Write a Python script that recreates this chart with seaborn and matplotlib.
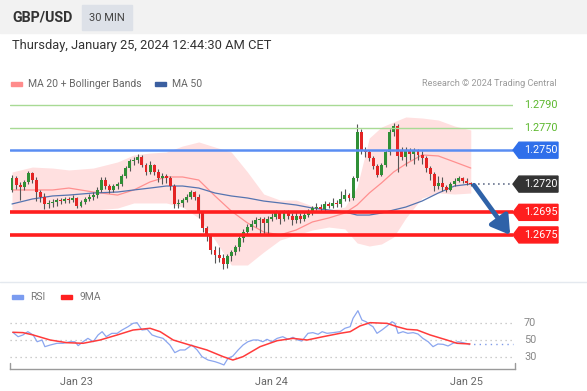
"""
GBP/USD 30 min - recriação do gráfico Trading Central
"""

import matplotlib
matplotlib.use("Agg")
import matplotlib.pyplot as plt
import matplotlib.transforms as mtrans
from matplotlib.patches import Polygon, Rectangle
from matplotlib.lines import Line2D
import pandas as pd
import seaborn as sns

# Velas de 30 min (primeira em 22/01 16:00)
opens = [1.2715, 1.2725, 1.2719, 1.2717, 1.2722, 1.2730, 1.2724, 1.2713, 1.2709, 1.2702,
         1.2703, 1.2704, 1.2706, 1.2705, 1.2707, 1.2706, 1.2708, 1.2701, 1.2704, 1.2707,
         1.2709, 1.2710, 1.2715, 1.2724, 1.2718, 1.2715, 1.2718, 1.2720, 1.2727, 1.2734,
         1.2740, 1.2741, 1.2744, 1.2737, 1.2731, 1.2737, 1.2731, 1.2725, 1.2727, 1.2725,
         1.2718, 1.2702, 1.2703, 1.2706, 1.2709, 1.2713, 1.2709, 1.2694, 1.2681, 1.2674,
         1.2662, 1.2657, 1.2655, 1.2649, 1.2656, 1.2660, 1.2664, 1.2672, 1.2678, 1.2682,
         1.2685, 1.2688, 1.2689, 1.2686, 1.2689, 1.2691, 1.2694, 1.2689, 1.2694, 1.2692,
         1.2688, 1.2692, 1.2689, 1.2693, 1.2695, 1.2699, 1.2700, 1.2698, 1.2702, 1.2701,
         1.2703, 1.2702, 1.2707, 1.2710, 1.2708, 1.2725, 1.2766, 1.2750, 1.2748, 1.2743,
         1.2736, 1.2728, 1.2737, 1.2748, 1.2766, 1.2771, 1.2749, 1.2744, 1.2750, 1.2747,
         1.2749, 1.2746, 1.2743, 1.2734, 1.2729, 1.2718, 1.2721, 1.2717, 1.2715, 1.2720,
         1.2723, 1.2725, 1.2723, 1.2721]
closes = [1.2725, 1.2719, 1.2717, 1.2722, 1.2730, 1.2724, 1.2713, 1.2709, 1.2702, 1.2703,
          1.2704, 1.2706, 1.2705, 1.2707, 1.2706, 1.2708, 1.2701, 1.2704, 1.2707, 1.2709,
          1.2710, 1.2715, 1.2724, 1.2718, 1.2715, 1.2718, 1.2720, 1.2727, 1.2734, 1.2740,
          1.2741, 1.2744, 1.2737, 1.2731, 1.2737, 1.2731, 1.2725, 1.2727, 1.2725, 1.2718,
          1.2702, 1.2703, 1.2706, 1.2709, 1.2713, 1.2709, 1.2694, 1.2681, 1.2674, 1.2662,
          1.2657, 1.2655, 1.2649, 1.2656, 1.2660, 1.2664, 1.2672, 1.2678, 1.2682, 1.2685,
          1.2688, 1.2689, 1.2686, 1.2689, 1.2691, 1.2694, 1.2689, 1.2694, 1.2692, 1.2688,
          1.2692, 1.2689, 1.2693, 1.2695, 1.2699, 1.2700, 1.2698, 1.2702, 1.2701, 1.2703,
          1.2702, 1.2707, 1.2710, 1.2708, 1.2725, 1.2766, 1.2750, 1.2748, 1.2743, 1.2736,
          1.2728, 1.2737, 1.2748, 1.2766, 1.2771, 1.2745, 1.2744, 1.2750, 1.2747, 1.2749,
          1.2746, 1.2743, 1.2734, 1.2729, 1.2718, 1.2721, 1.2717, 1.2715, 1.2720, 1.2723,
          1.2725, 1.2723, 1.2721, 1.2720]
highs = [1.2728, 1.2727, 1.2722, 1.2724, 1.2732, 1.2731, 1.2726, 1.2715, 1.2712, 1.2706,
         1.2707, 1.2708, 1.2708, 1.2709, 1.2709, 1.2710, 1.2709, 1.2706, 1.2709, 1.2711,
         1.2713, 1.2717, 1.2726, 1.2726, 1.2720, 1.2720, 1.2722, 1.2729, 1.2736, 1.2742,
         1.2744, 1.2747, 1.2746, 1.2739, 1.2740, 1.2738, 1.2733, 1.2730, 1.2729, 1.2727,
         1.2720, 1.2707, 1.2708, 1.2711, 1.2715, 1.2714, 1.2711, 1.2696, 1.2683, 1.2676,
         1.2665, 1.2664, 1.2658, 1.2658, 1.2662, 1.2666, 1.2674, 1.2680, 1.2685, 1.2688,
         1.2691, 1.2691, 1.2691, 1.2692, 1.2694, 1.2697, 1.2696, 1.2697, 1.2697, 1.2694,
         1.2695, 1.2694, 1.2696, 1.2698, 1.2701, 1.2703, 1.2702, 1.2705, 1.2704, 1.2708,
         1.2706, 1.2714, 1.2716, 1.2712, 1.2727, 1.2773, 1.2769, 1.2753, 1.2750, 1.2745,
         1.2738, 1.2739, 1.2750, 1.2769, 1.2774, 1.2773, 1.2753, 1.2753, 1.2752, 1.2752,
         1.2751, 1.2749, 1.2745, 1.2736, 1.2731, 1.2727, 1.2726, 1.2719, 1.2722, 1.2725,
         1.2727, 1.2726, 1.2725, 1.2722]
lows = [1.2713, 1.2716, 1.2706, 1.2715, 1.2720, 1.2721, 1.2705, 1.2704, 1.2698, 1.2699,
        1.2700, 1.2701, 1.2702, 1.2703, 1.2703, 1.2704, 1.2699, 1.2700, 1.2702, 1.2705,
        1.2706, 1.2708, 1.2713, 1.2716, 1.2712, 1.2713, 1.2716, 1.2718, 1.2725, 1.2732,
        1.2737, 1.2739, 1.2735, 1.2728, 1.2729, 1.2728, 1.2722, 1.2720, 1.2721, 1.2715,
        1.2699, 1.2699, 1.2700, 1.2704, 1.2707, 1.2706, 1.2690, 1.2678, 1.2670, 1.2658,
        1.2650, 1.2651, 1.2645, 1.2646, 1.2652, 1.2657, 1.2661, 1.2669, 1.2676, 1.2679,
        1.2682, 1.2676, 1.2675, 1.2676, 1.2687, 1.2689, 1.2685, 1.2687, 1.2689, 1.2684,
        1.2686, 1.2686, 1.2687, 1.2691, 1.2693, 1.2697, 1.2695, 1.2696, 1.2699, 1.2699,
        1.2700, 1.2700, 1.2705, 1.2705, 1.2706, 1.2723, 1.2747, 1.2744, 1.2740, 1.2733,
        1.2726, 1.2727, 1.2735, 1.2746, 1.2763, 1.2731, 1.2741, 1.2736, 1.2741, 1.2738,
        1.2741, 1.2738, 1.2731, 1.2724, 1.2714, 1.2716, 1.2714, 1.2713, 1.2714, 1.2718,
        1.2722, 1.2721, 1.2719, 1.2718]

# Médias e Bandas de Bollinger (em índice de vela)
band_idx = [0, 5, 10, 14, 20, 26, 30, 34, 38, 42, 46, 50, 54, 58, 62, 66, 70, 74, 78, 82,
            85, 88, 91, 94, 97, 101, 105, 109, 113]
ma50 = [1.27024, 1.27068, 1.27095, 1.27103, 1.27121, 1.27130, 1.27148, 1.27165, 1.27183, 1.27183,
        1.27165, 1.27121, 1.27095, 1.27077, 1.27050, 1.27033, 1.27015, 1.26988, 1.26971, 1.26953,
        1.26926, 1.26926, 1.26944, 1.26971, 1.26997, 1.27050, 1.27121, 1.27183, 1.27201]
ma20 = [1.27148, 1.27148, 1.27148, 1.27165, 1.27130, 1.27103, 1.27148, 1.27219, 1.27263, 1.27263,
        1.27236, 1.27095, 1.26962, 1.26856, 1.26776, 1.26750, 1.26794, 1.26865, 1.26900, 1.26944,
        1.27015, 1.27121, 1.27210, 1.27307, 1.27378, 1.27458, 1.27449, 1.27396, 1.27342]
bb_upper = [1.27307, 1.27351, 1.27342, 1.27325, 1.27342, 1.27396, 1.27458, 1.27475, 1.27484, 1.27537,
            1.27573, 1.27528, 1.27484, 1.27307, 1.27112, 1.27059, 1.27059, 1.27006, 1.26971, 1.26997,
            1.27174, 1.27608, 1.27705, 1.27750, 1.27794, 1.27785, 1.27767, 1.27714, 1.27679]
bb_lower = [1.26944, 1.26953, 1.26962, 1.26971, 1.26971, 1.26988, 1.27033, 1.27033, 1.27033, 1.26997,
            1.26900, 1.26705, 1.26484, 1.26484, 1.26599, 1.26705, 1.26750, 1.26794, 1.26820, 1.26803,
            1.26679, 1.26652, 1.26670, 1.26732, 1.26900, 1.27077, 1.27121, 1.27112, 1.27121]

# Níveis de suporte / resistência
levels = [1.2790, 1.2770, 1.2750, 1.2720, 1.2695, 1.2675]
level_labels = ["1.2790", "1.2770", "1.2750", "1.2720", "1.2695", "1.2675"]

# RSI e média de 9
rsi_idx = [0.2, 1.5, 2.7, 3.9, 5.2, 6.2, 7.4, 8.1, 9.4, 11.1, 12.6, 14.3, 15.5, 16.3, 17.5,
           18.7, 20.0, 21.2, 22.2, 23.2, 24.6, 25.9, 27.1, 28.6, 29.8, 30.8, 32.0, 33.3, 34.5,
           35.7, 37.2, 38.9, 40.1, 41.4, 42.6, 44.3, 45.6, 46.8, 48.3, 50.0, 51.2, 52.2, 53.2,
           54.4, 55.7, 56.9, 58.1, 59.4, 60.6, 61.8, 62.8, 64.0, 65.3, 66.7, 68.0, 69.2, 70.4,
           71.4, 72.9, 74.1, 75.4, 76.4, 77.6, 79.1, 80.8, 82.0, 83.3, 84.0, 85.2, 86.2, 87.2,
           88.2, 88.9, 89.9, 91.1, 92.4, 93.6, 94.3, 95.1, 96.3, 97.5, 98.8, 100.0, 101.2,
           102.5, 103.7, 104.9, 106.2, 107.4, 108.6, 109.9, 111.1, 112.3]
rsi_val = [58.9, 53.8, 55.8, 59.6, 55.8, 48.0, 50.0, 42.3, 44.2, 46.2, 46.2, 48.0, 48.0, 43.5, 48.0,
           51.9, 48.0, 55.8, 59.6, 53.8, 57.7, 57.7, 61.5, 65.4, 69.2, 70.0, 61.5, 62.3, 55.8,
           53.8, 51.9, 44.2, 35.4, 38.5, 38.5, 44.2, 38.5, 30.8, 26.9, 25.0, 23.1, 21.2, 28.9,
           31.5, 38.5, 44.2, 48.0, 50.0, 50.0, 48.0, 50.8, 48.0, 51.9, 53.8, 50.8, 53.1, 50.0,
           48.8, 57.7, 58.5, 56.6, 59.6, 57.7, 58.5, 59.6, 63.5, 65.4, 75.0, 83.8, 73.0, 71.1,
           67.3, 65.4, 57.7, 61.5, 66.2, 71.1, 69.2, 57.7, 59.6, 57.7, 58.5, 56.9, 51.9,
           48.0, 42.3, 45.4, 45.0, 43.1, 46.2, 48.0, 46.9, 45.6]
ma9_idx = [0.2, 2.7, 5.2, 9.4, 13.5, 17.5, 21.7, 25.9, 29.8, 34.0, 36.5, 39.7, 43.8, 48.0, 52.0,
           54.4, 56.9, 61.1, 65.3, 69.2, 72.7, 76.6, 80.8, 83.3, 85.7, 88.2, 92.4, 94.8, 97.3,
           99.8, 103.0, 107.1, 109.6, 112.8]
ma9_val = [58.9, 58.5, 55.8, 50.0, 46.9, 46.2, 50.0, 55.8, 61.5, 63.5, 59.6, 50.0, 44.2, 38.5, 30.8,
           26.9, 30.8, 42.3, 49.2, 51.9, 50.0, 53.8, 57.7, 59.6, 66.2, 70.0, 69.2, 65.4, 62.3,
           61.5, 55.8, 50.0, 46.2, 45.4]
rsi_levels = [70, 50, 30]

times = pd.date_range("2024-01-22 16:00", periods=len(closes), freq="30min")

sns.set_theme(style="white")
plt.rcParams['font.family'] = ['Roboto', 'DejaVu Sans']

W, H = 587, 391
fig = plt.figure(figsize=(W / 100, H / 100), dpi=100)
fig.patch.set_facecolor('white')


def fx(px):
    return px / W


def fy(py):
    return 1 - py / H


# escala horizontal: vela 0 em x=12 px, 4.06 px por vela
def xlim_px(left, right):
    return ((left - 12) / 4.06, (right - 12) / 4.06)


# Cabeçalho
fig.patches.append(Rectangle((0, fy(33)), 1, 33 / H, transform=fig.transFigure,
                             color='#f2f2f2', zorder=0))
fig.patches.append(Rectangle((fx(82), fy(30)), 50 / W, 25 / H, transform=fig.transFigure,
                             color='#dde1e8', zorder=1))
fig.text(fx(12), fy(18), "GBP/USD", fontsize=10.3, fontweight='bold', color='#333333', va='center')
fig.text(fx(107), fy(18), "30 MIN", fontsize=8, color='#444444', va='center', ha='center')
fig.text(fx(12), fy(46), "Thursday, January 25, 2024 12:44:30 AM CET", fontsize=9.3,
         color='#333333', va='center')

# Legenda superior
fig.patches.append(Rectangle((fx(11), fy(86)), 11 / W, 4 / H, transform=fig.transFigure,
                             color='#ff8c8c'))
fig.text(fx(28), fy(84), "MA 20 + Bollinger Bands", fontsize=7.5, color='#666666', va='center')
fig.patches.append(Rectangle((fx(155), fy(86)), 11 / W, 4 / H, transform=fig.transFigure,
                             color='#3b5fa0'))
fig.text(fx(172), fy(84), "MA 50", fontsize=7.5, color='#666666', va='center')
fig.text(fx(557), fy(84), "Research \u00a9 2024 Trading Central", fontsize=6.6, color='#9a9a9a',
         va='center', ha='right')

# Painel de preço
ax = fig.add_axes([fx(10), fy(280), 503 / W, 188 / H])
for s in ax.spines.values():
    s.set_visible(False)
ax.set_xticks([])
ax.set_yticks([])

ax.fill_between(band_idx, bb_lower, bb_upper, color='#ffe0e0', lw=0, zorder=1)
sns.lineplot(x=band_idx, y=ma20, color='#ff9090', lw=0.9, ax=ax, zorder=2)
sns.lineplot(x=band_idx, y=ma50, color='#5574b0', lw=0.9, ax=ax, zorder=2)

idx = list(range(len(closes)))
body_bottom = [min(o, c) for o, c in zip(opens, closes)]
body_height = [max(abs(c - o), 0.00006) for o, c in zip(opens, closes)]
body_color = ['#2f8f36' if c >= o else '#e42424' for o, c in zip(opens, closes)]
ax.vlines(idx, lows, highs, color='#555555', lw=0.8, zorder=3)
ax.bar(idx, body_height, bottom=body_bottom, width=0.72, color=body_color, lw=0, zorder=4)

level_style = {
    1.2790: ('#a8da94', 1.0), 1.2770: ('#a8da94', 1.0), 1.2750: ('#5a8df2', 1.8),
    1.2695: ('#ff1e1e', 2.6), 1.2675: ('#ff1e1e', 2.6),
}
for lv in levels:
    if lv in level_style:
        col, lw = level_style[lv]
        ax.axhline(lv, color=col, lw=lw, zorder=5)

# linha pontilhada do último preço
ax.plot([idx[-1] + 0.5, xlim_px(10, 513)[1]], [closes[-1], closes[-1]], ls=(0, (1, 2)),
        color='#6a7590', lw=1.2, zorder=5)

ax.set_xlim(xlim_px(10, 513))
ax.set_ylim(1.2790 - 175 * 0.0000885, 1.2790 + 13 * 0.0000885)

# seta de projeção
ax.annotate("", xy=(122.7, levels[-1]), xytext=(idx[-1] + 0.8, closes[-1] - 0.0001),
            arrowprops=dict(arrowstyle='-|>,head_length=0.9,head_width=0.55', color='#2f62a8',
                            lw=3.4, shrinkA=0, shrinkB=0), zorder=6)

# etiquetas de preço
tr = mtrans.blended_transform_factory(fig.transFigure, ax.transData)
dy = (ax.get_ylim()[1] - ax.get_ylim()[0]) / 188 * 8
tag_colors = {1.2750: '#2f6fea', 1.2720: '#333333', 1.2695: '#ff1e1e', 1.2675: '#ff1e1e'}
for lv, lab in zip(levels, level_labels):
    if lv in tag_colors:
        poly = Polygon([(fx(513), lv), (fx(519), lv + dy), (fx(558), lv + dy),
                        (fx(558), lv - dy), (fx(519), lv - dy)], closed=True,
                       color=tag_colors[lv], transform=tr, clip_on=False, zorder=7)
        ax.add_patch(poly)
        ax.text(fx(524), lv, lab, color='white', fontsize=7.8, va='center', ha='left',
                transform=tr, zorder=8, clip_on=False)
    else:
        ax.text(fx(524), lv, lab, color='#5cb82e', fontsize=7.8, va='center', ha='left',
                transform=tr, clip_on=False)

# separador
fig.add_artist(Line2D([0, 1], [fy(282), fy(282)], transform=fig.transFigure,
                      color='#e4e9ef', lw=1))

# Painel RSI
rax = fig.add_axes([fx(10), fy(369), 505 / W, 79 / H])
for name, s in rax.spines.items():
    s.set_visible(name == 'bottom')
rax.spines['bottom'].set_color('#9a9a9a')
rax.spines['bottom'].set_linewidth(1)
for lv in rsi_levels:
    rax.axhline(lv, ls=(0, (1, 3)), color='#bdbdbd', lw=0.9, zorder=1)
sns.lineplot(x=rsi_idx, y=rsi_val, color='#8ba6ef', lw=0.9, ax=rax, zorder=3)
sns.lineplot(x=ma9_idx, y=ma9_val, color='#ff3b3b', lw=1.1, ax=rax, zorder=4)
rax.plot([rsi_idx[-1], xlim_px(10, 513)[1]], [rsi_val[-1], rsi_val[-1]], ls=(0, (1, 3)),
         color='#7f9ae8', lw=1.0, zorder=2)
rax.set_xlim(xlim_px(10, 515))
rax.set_ylim(50 - 29 / 0.867, 50 + 50 / 0.867)
rax.set_yticks([])
rax.set_ylabel("")
rax.plot([0, 0], [0, 0.08], transform=rax.transAxes, color='#9a9a9a', lw=1, clip_on=False)
rax.plot([1, 1], [0, 0.08], transform=rax.transAxes, color='#9a9a9a', lw=1, clip_on=False)

tick_pos = [i for i, t in enumerate(times) if t.hour == 0 and t.minute == 0]
rax.set_xticks(tick_pos)
rax.set_xticklabels([times[i].strftime("%b %d").replace(" 0", " ") for i in tick_pos])
rax.tick_params(axis='x', length=0, pad=6, labelsize=7.8, labelcolor='#666666')

rtr = mtrans.blended_transform_factory(fig.transFigure, rax.transData)
for lv in rsi_levels:
    rax.text(fx(524), lv, str(lv), color='#888888', fontsize=7.8, va='center', ha='left',
             transform=rtr, clip_on=False)

# legenda RSI
fig.patches.append(Rectangle((fx(12), fy(299)), 11 / W, 4 / H, transform=fig.transFigure,
                             color='#7b9cf0'))
fig.text(fx(30), fy(297), "RSI", fontsize=7.5, color='#777777', va='center')
fig.patches.append(Rectangle((fx(61), fy(299)), 11 / W, 4 / H, transform=fig.transFigure,
                             color='#ff2020'))
fig.text(fx(80), fy(297), "9MA", fontsize=7.5, color='#777777', va='center')

fig.savefig("out.png", dpi=100)
